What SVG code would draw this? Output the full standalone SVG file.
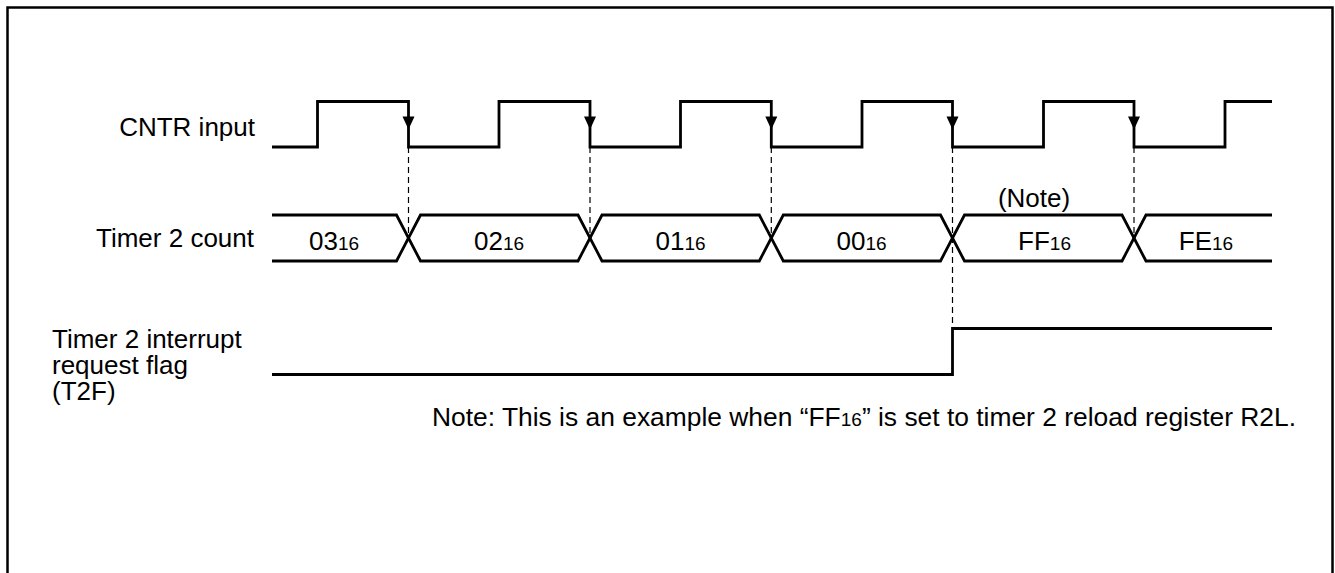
<svg xmlns="http://www.w3.org/2000/svg" width="1335" height="573" viewBox="0 0 1335 573">
<style>
text{font-family:"Liberation Sans",Arial,sans-serif;font-size:26px;fill:#000}
.sub{font-size:19px}
.nt{font-size:26.4px}
.w{fill:none;stroke:#000;stroke-width:2.8;stroke-linejoin:miter}
.d{fill:none;stroke:#000;stroke-width:1.2;stroke-dasharray:6,4}
.c{text-anchor:middle}
.e{text-anchor:end}
</style>
<defs>
<polygon id="ah" points="-6,-6.5 6,-6.5 0,6.5" fill="#000"/>
</defs>
<rect x="7.5" y="7.5" width="1325" height="620" fill="none" stroke="#000" stroke-width="2.5"/>
<g id="labels">
<text class="e" x="255" y="136">CNTR input</text>
<text class="e" x="254" y="247">Timer 2 count</text>
<text x="52" y="348">Timer 2 interrupt</text>
<text x="52" y="374">request flag</text>
<text x="52" y="400">(T2F)</text>
</g>
<g id="connectors">
<line class="d" x1="408.5" y1="147" x2="408.5" y2="236"/>
<line class="d" x1="590" y1="147" x2="590" y2="236"/>
<line class="d" x1="771.3" y1="147" x2="771.3" y2="236"/>
<line class="d" x1="952.5" y1="147" x2="952.5" y2="329"/>
<line class="d" x1="1134" y1="147" x2="1134" y2="236"/>
</g>
<g id="cntr">
<path class="w" d="M272,147 H317.5 V101.5 H408.5 V147 H499 V101.5 H590 V147 H680.5 V101.5 H771.3 V147 H862 V101.5 H952.5 V147 H1043.5 V101.5 H1134 V147 H1225 V101.5 H1272"/>
<use href="#ah" x="408.5" y="123"/>
<use href="#ah" x="590" y="123"/>
<use href="#ah" x="771.3" y="123"/>
<use href="#ah" x="952.5" y="123"/>
<use href="#ah" x="1134" y="123"/>
</g>
<g id="count">
<path class="w" d="M272,215 H396.5 L420.5,261 H578 L602,215 H759.3 L783.3,261 H940.5 L964.5,215 H1122 L1146,261 H1272"/>
<path class="w" d="M272,261 H396.5 L420.5,215 H578 L602,261 H759.3 L783.3,215 H940.5 L964.5,261 H1122 L1146,215 H1272"/>
<text class="c" x="334" y="250">03<tspan class="sub">16</tspan></text>
<text class="c" x="499" y="250">02<tspan class="sub">16</tspan></text>
<text class="c" x="680.5" y="250">01<tspan class="sub">16</tspan></text>
<text class="c" x="861.5" y="250">00<tspan class="sub">16</tspan></text>
<text class="c" x="1044.5" y="250">FF<tspan class="sub">16</tspan></text>
<text class="c" x="1206" y="250">FE<tspan class="sub">16</tspan></text>
<text class="c" x="1034" y="207">(Note)</text>
</g>
<g id="t2f">
<path class="w" d="M272,374.5 H952.5 V328.5 H1272"/>
</g>
<g id="note">
<text class="nt" x="432" y="426">Note: This is an example when “FF<tspan class="sub">16</tspan>” is set to timer 2 reload register R2L.</text>
</g>
</svg>
